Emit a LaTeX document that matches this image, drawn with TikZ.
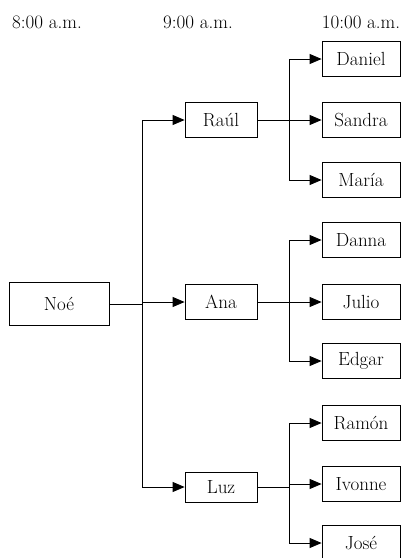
\documentclass[tikz,border=0pt]{standalone}
\usepackage{amsmath}
\usetikzlibrary{arrows.meta,positioning}

\tikzset{
	persona/.style={draw, line width=0.8pt, minimum height=35pt, inner sep=2pt, font=\fontsize{19}{22}\selectfont},
	padre/.style={persona, minimum width=72pt},
	hijo/.style={persona, minimum width=78pt},
	hora/.style={font=\fontsize{19}{22}\selectfont},
	linea/.style={line width=0.8pt},
	flecha/.style={linea, -{Triangle[length=12pt,width=10pt]}},
}

\begin{document}
\begin{tikzpicture}[x=1pt,y=-1pt]
		\useasboundingbox (0,0) rectangle (404,558);
		% horas
		\node[hora] (h8) at (47,22) {8:00 a.m.};
		\node[hora] (h9) at (198,22) {9:00 a.m.};
		\node[hora] (h10) at (361,22) {10:00 a.m.};
		%
		\node[persona, minimum width=100pt, minimum height=43pt] (noe) at (59,304) {Noé};
		\node[padre] (raul) at (221,120) {Raúl};
		\node[padre] (ana) at (221,302) {Ana};
		\node[padre, minimum height=30pt] (luz) at (221,487) {Luz};
		%
		\node[hijo] (daniel) at (361,59) {Daniel};
		\node[hijo] (sandra) at (361,120) {Sandra};
		\node[hijo] (maria) at (361,180) {María};
		\node[hijo] (danna) at (361,240) {Danna};
		\node[hijo] (julio) at (361,302) {Julio};
		\node[hijo] (edgar) at (361,361) {Edgar};
		\node[hijo] (ramon) at (361,423) {Ramón};
		\node[hijo] (ivonne) at (361,484) {Ivonne};
		\node[hijo] (jose) at (361,543) {José};
		%
		\coordinate (c0) at (142,0);
		\coordinate (c1) at (289,0);
		\draw[linea] (noe.east) -- (noe.east -| c0);
		\draw[linea] (c0 |- raul.west) -- (c0 |- luz.west);
		\foreach \p in {raul,ana,luz}
			\draw[flecha] (c0 |- \p.west) -- (\p.west);
		%
		\foreach \p/\a/\b/\c in {raul/daniel/sandra/maria, ana/danna/julio/edgar, luz/ramon/ivonne/jose} {
			\draw[linea] (\p.east) -- (\p.east -| c1);
			\draw[linea] (c1 |- \a.west) -- (c1 |- \c.west);
			\foreach \h in {\a,\b,\c}
				\draw[flecha] (c1 |- \h.west) -- (\h.west);
		}
	\end{tikzpicture}
\end{document}
